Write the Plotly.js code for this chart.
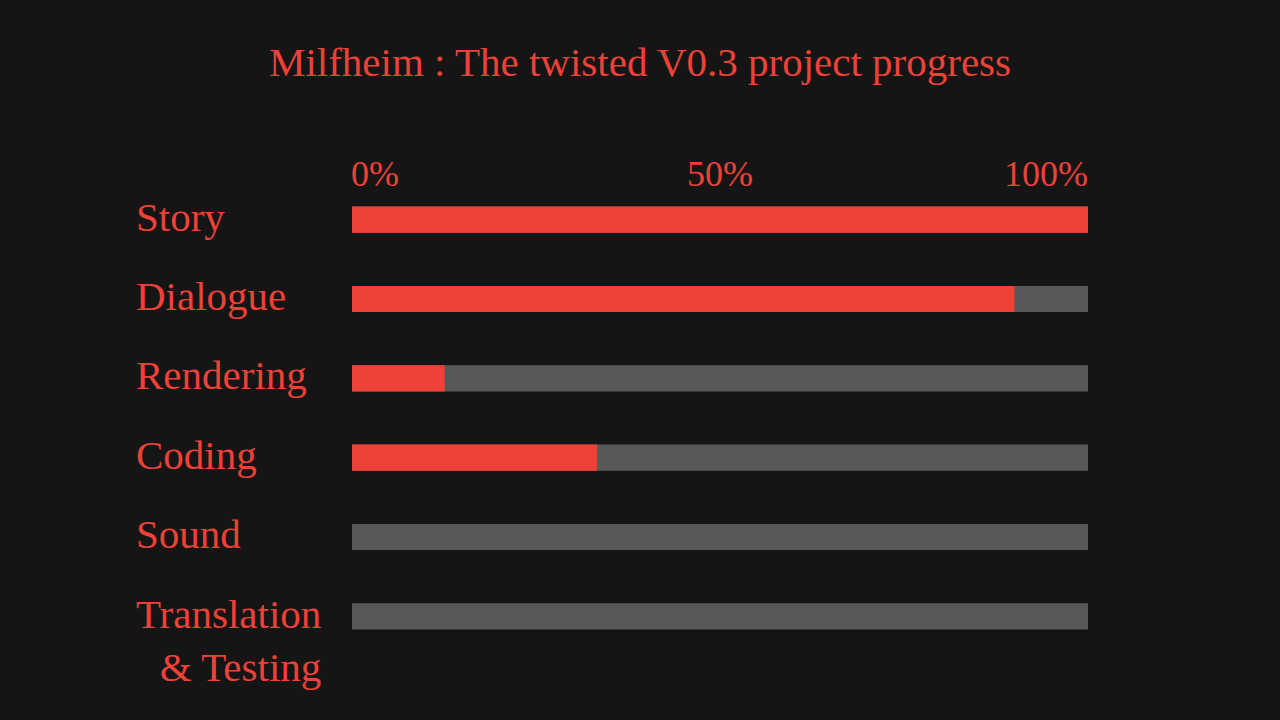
<!DOCTYPE html>
<html>
<head>
<meta charset="utf-8">
<script src="https://cdn.plot.ly/plotly-3.0.1.min.js"></script>
<style>
  html, body { margin: 0; padding: 0; background: #151515; }
  #chart { width: 1280px; height: 720px; }
</style>
</head>
<body>
<div id="chart"></div>
<script>
const categories = ["Story", "Dialogue", "Rendering", "Coding", "Sound", "Translation<br>& Testing"];
const progress = [100, 90, 12.6, 33.3, 0, 0];
const fullScale = [100, 100, 100, 100, 100, 100];
const tickValues = [0, 50, 100];
const tickLabels = ["0%", "50%", "100%"];
const chartTitle = "Milfheim : The twisted V0.3 project progress";

const RED = "#ee4137";
const GREY = "#585858";
const FONT = "Liberation Serif, DejaVu Serif, serif";

const traces = [
  {
    type: "bar", orientation: "h",
    y: categories, x: fullScale,
    marker: { color: GREY, line: { width: 0 } },
    width: 0.33, hoverinfo: "skip", showlegend: false
  },
  {
    type: "bar", orientation: "h",
    y: categories, x: progress,
    marker: { color: RED, line: { width: 0 } },
    width: 0.33, hoverinfo: "skip", showlegend: false
  }
];

const annotations = [];
categories.forEach((c, i) => {
  const multi = c.indexOf("<br>") >= 0;
  annotations.push({
    xref: "paper", yref: "y",
    x: -(352 - 134) / 736, y: c,
    xanchor: "left", yanchor: multi ? "top" : "middle",
    align: "right",
    text: c, showarrow: false,
    yshift: multi ? 27 : 3,
    font: { family: FONT, size: 41, color: RED }
  });
});
const anchors = ["left", "center", "right"];
tickValues.forEach((v, i) => {
  annotations.push({
    xref: "x", yref: "paper",
    x: v, y: 1,
    xanchor: anchors[i], yanchor: "bottom",
    xshift: i === 0 ? -3 : (i === 2 ? 2 : 0),
    yshift: -16,
    text: tickLabels[i], showarrow: false,
    font: { family: FONT, size: 36, color: RED }
  });
});

const layout = {
  width: 1280, height: 720,
  paper_bgcolor: "#151515", plot_bgcolor: "#151515",
  margin: { l: 352, r: 192, t: 180, b: 64, pad: 0 },
  barmode: "overlay",
  title: {
    text: chartTitle,
    x: 0.5, xref: "container", xanchor: "center",
    y: 1 - 62 / 720, yref: "container", yanchor: "middle",
    font: { family: FONT, size: 41, color: RED }
  },
  xaxis: {
    range: [0, 100], showgrid: false, zeroline: false,
    showticklabels: false, showline: false, fixedrange: true
  },
  yaxis: {
    type: "category", autorange: "reversed",
    showgrid: false, zeroline: false, showticklabels: false,
    showline: false, fixedrange: true
  },
  annotations: annotations,
  showlegend: false
};

Plotly.newPlot("chart", traces, layout, { displayModeBar: false, staticPlot: true });
</script>
</body>
</html>
